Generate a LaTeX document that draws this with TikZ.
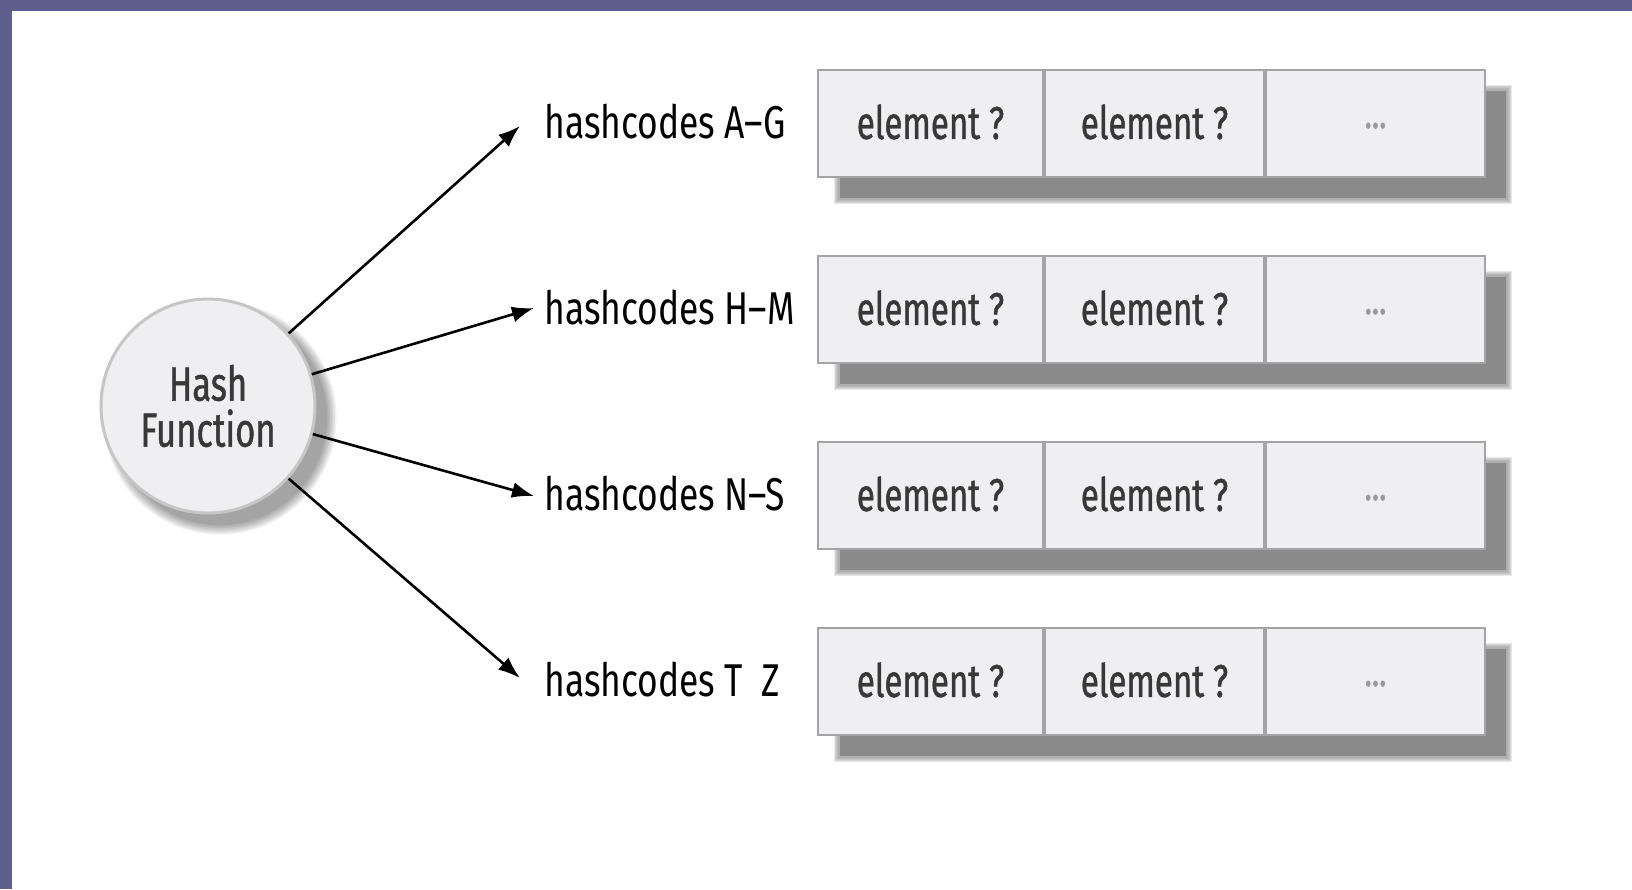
\documentclass[tikz,border=0pt]{standalone}
\usepackage{fontspec}
\setmainfont{Fira Sans}[FakeStretch=0.77]
\newfontfamily\cellfont{Fira Sans}[FakeStretch=0.72, FakeBold=0.9]
\usetikzlibrary{arrows.meta}
\definecolor{frame}{HTML}{5D5E8C}
\definecolor{cellfill}{HTML}{EFEFF2}
\definecolor{celledge}{HTML}{A4A4A6}
\definecolor{shadowgray}{HTML}{8A8A8A}
\definecolor{inktext}{HTML}{383838}
\newcommand{\elem}{\raisebox{2pt}{element ?}}
\tikzset{
  cell/.style={draw=celledge, line width=1.2pt, fill=cellfill, inner sep=0pt,
    minimum height=53.5pt, anchor=north west, text=inktext,
    font=\cellfont\fontsize{23}{26}\selectfont},
  wide/.style={minimum width=112.3pt},
  narrow/.style={minimum width=109.3pt},
  dots/.style={text=gray!80, font=\cellfont\fontsize{21}{22}\selectfont},
  bucket/.style={anchor=west, inner sep=0pt, text=black,
    font=\fontsize{23}{26}\selectfont},
  hashnode/.style={circle, minimum size=107pt, inner sep=0pt, fill=cellfill,
    draw=gray!45, line width=1.5pt, align=center, text=inktext,
    font=\cellfont\fontsize{24}{23}\selectfont},
  arr/.style={-{Latex[length=11pt,width=8pt]}, line width=1.3pt, black}
}
\begin{document}
\begin{tikzpicture}[x=0.5pt,y=-0.5pt]
  % canvas and frame bands
  \fill[white] (0,0) rectangle (1632,889);
  \useasboundingbox (0,0) rectangle (1632,889);
  \fill[frame] (0,0) rectangle (1632,11);
  \fill[frame] (0,0) rectangle (12,889);

  % hash function disc with soft shadow
  \foreach \k in {0,...,6}
    \fill[black, opacity=0.06] (220,418) circle ({53.5pt+\k*0.8pt});
  \node[hashnode] (hf) at (208,406) {Hash\\Function};

  % bucket rows
  \foreach \i/\y/\lab in {1/69/{A–G}, 2/255/{H–M}, 3/441/{N–S}, 4/627/{T\ \ Z}} {
    % blurred drop shadow
    \foreach \k in {0,...,4}
      \fill[shadowgray, opacity=0.2] ({838-\k},{\y+20-\k}) rectangle ({1508+\k},{\y+131+\k});
    \fill[shadowgray] (840,\y+22) rectangle (1506,\y+129);
    % cells
    \node[cell, wide]   (r\i a) at (817,\y) {\elem};
    \node[cell, narrow] (r\i b) at (r\i a.north east) {\elem};
    \node[cell, narrow] (r\i c) at (r\i b.north east) {};
    \node[dots] (d\i) at ([yshift=-1pt]r\i c.center) {...};
    % bucket label
    \node[bucket] (l\i) at (544,\y+53) {hashcodes \lab};
  }

  % connectors from the hash function to the buckets
  \draw[arr] (hf.42)  -- ([xshift=-12pt,yshift=-2pt]l1.west);
  \draw[arr] (hf.17)  -- ([xshift=-5pt]l2.west);
  \draw[arr] (hf.-15) -- ([xshift=-5pt,yshift=-1pt]l3.west);
  \draw[arr] (hf.-42) -- ([xshift=-12pt,yshift=1pt]l4.west);
\end{tikzpicture}
\end{document}
